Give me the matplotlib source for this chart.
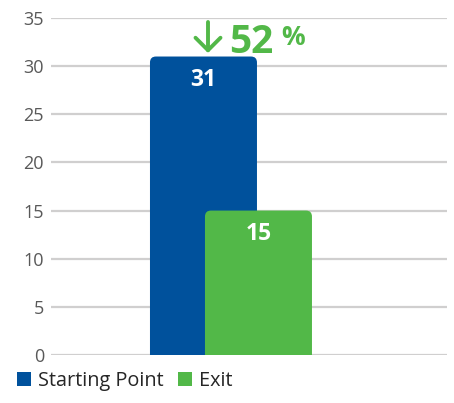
import matplotlib.pyplot as plt
from matplotlib.patches import FancyBboxPatch

plt.rcParams['font.family'] = ['Open Sans', 'DejaVu Sans']

# data
series = ['Starting Point', 'Exit']
values = [31, 15]
change_label = '52'
yticks = [0, 5, 10, 15, 20, 25, 30, 35]

blue = '#00519C'
green = '#52B848'
colors = [blue, green]
grid_col = '#D0CFCF'
tick_col = '#595959'

fig = plt.figure(figsize=(4.54, 4.03), dpi=100)
ax = fig.add_axes([51/454, 48/403, 396/454, 337/403])

positions = [0, 0.514]
width = 1.0
ax.set_xlim(-1.425, 2.276)
ax.set_ylim(0, 35)

# pixel scale for rounded corners
px_x = 1 / 107.0
px_y = 35 / 337.0
r = 6 * px_x
aspect = px_y / px_x

for pos, val, col in zip(positions, values, colors):
    box = FancyBboxPatch((pos - width / 2, -2), width, val + 2,
                         boxstyle='round,pad=0,rounding_size=%f' % r,
                         mutation_aspect=aspect, fc=col, ec='none', zorder=3)
    ax.add_patch(box)
    ax.annotate(str(val), xy=(pos, val), xytext=(0, -8), textcoords='offset points',
                ha='center', va='top', color='white', fontsize=16.5, fontweight='bold', zorder=4)

for y in yticks:
    ax.axhline(y, color=grid_col, lw=1.6, zorder=1)

ax.set_yticks(yticks)
ax.set_xticks([])
ax.tick_params(axis='y', length=0, pad=5, labelsize=13, labelcolor=tick_col)
for s in ax.spines.values():
    s.set_visible(False)

# change annotation
ax.annotate('', xy=(208, 403 - 53), xycoords='figure pixels',
            xytext=(208, 403 - 22), textcoords='figure pixels',
            arrowprops=dict(arrowstyle='->,head_length=0.45,head_width=0.45',
                            lw=2.8, color=green, mutation_scale=20, shrinkA=0, shrinkB=0))
fig.text(229 / 454, 1 - 53 / 403, change_label, color=green, fontsize=28,
         fontweight='bold', ha='left', va='baseline')
fig.text(281 / 454, 1 - 45 / 403, '%', color=green, fontsize=19,
         fontweight='bold', ha='left', va='baseline')

# legend
handles = [plt.Rectangle((0, 0), 1, 1, fc=c, ec='none') for c in colors]
fig.legend(handles, series, loc='lower left', bbox_to_anchor=(-0.002, -0.015),
           ncol=2, frameon=False, fontsize=14.3, handlelength=0.72, handleheight=0.72,
           handletextpad=0.35, columnspacing=0.7, labelcolor='#262626')

fig.savefig('out.png', dpi=100)
